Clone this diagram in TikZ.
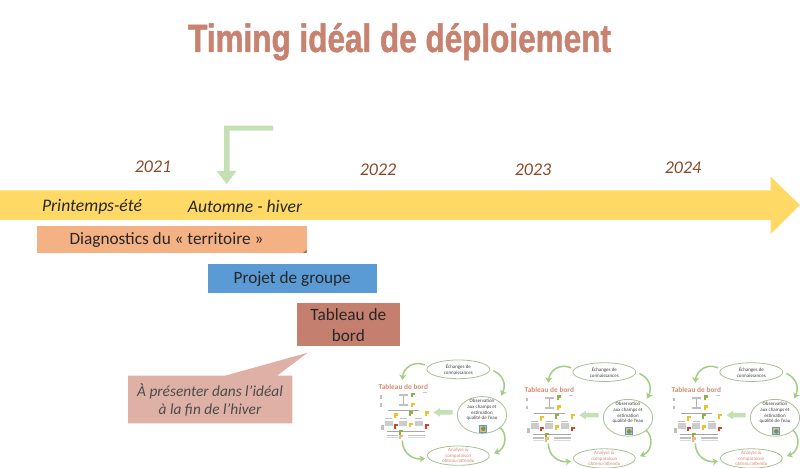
\documentclass[tikz,border=0pt]{standalone}
\usepackage{fontspec}
\setmainfont{Carlito}
\newfontfamily\titlefont[FakeStretch=0.8,FakeBold=1.2]{Liberation Sans}
\usetikzlibrary{arrows.meta,shapes.geometric}
\definecolor{bandyellow}{HTML}{FFD966}
\definecolor{lightgreen}{HTML}{C5E0B4}
\definecolor{arcgreen}{HTML}{A2CD85}
\definecolor{titlecol}{HTML}{C88270}
\definecolor{yearcol}{HTML}{8A4B2A}
\definecolor{orangebox}{HTML}{F4B183}
\definecolor{bluebox}{HTML}{5B9BD5}
\definecolor{brickbox}{HTML}{C47F6E}
\definecolor{pinkbox}{HTML}{DEB0A6}
\definecolor{ellipseedge}{HTML}{A9BF96}
\definecolor{salmontext}{HTML}{D98A72}
\definecolor{flaggreen}{HTML}{8DB04A}
\definecolor{flagyellow}{HTML}{F2C02E}
\definecolor{flagred}{HTML}{D9402A}
\newcommand{\minilabel}{\fontsize{5}{5.7}\selectfont}
\newcommand{\miniflag}[3]{\fill[#3] (#1,#2) rectangle ++(6,14); \fill[#3] (#1,#2) rectangle ++(12,7);}
\newcommand{\miniblock}[2]{\fill[gray!40] (#1,#2) rectangle ++(24,16); \fill[gray!50] (#1+2,#2-8) rectangle ++(20,4);}
\tikzset{
  x=1bp,y=-1bp,
  year/.style={font=\itshape\fontsize{18}{20}\selectfont,text=yearcol,inner sep=0pt},
  season/.style={font=\itshape\fontsize{17.7}{20}\selectfont,text=black!85,inner sep=0pt},
  boxlabel/.style={font=\fontsize{17.3}{21}\selectfont,text=black!85,inner sep=0pt,align=center},
  thumbell/.style={ellipse,draw=ellipseedge,line width=.8pt,fill=white,inner sep=-4pt,align=center},
  thumbtext/.style={font=\minilabel,text=black!75},
  arcarrow/.style={draw=arcgreen,line width=1.5pt,-{Stealth[length=5.5bp,width=7bp]}},
  thumb/.pic={
    \begin{scope}[x=.3333bp,y=-.3333bp]
      \node[thumbell,thumbtext,minimum width=22.2mm,minimum height=6.6mm] (echanges) at (265,58) {Échanges de\\connaissances};
      \node[thumbell,thumbtext,minimum width=17.4mm,minimum height=13mm] (obs) at (336,195) {Observation\\aux champs et\\estimation\\qualité de l'eau\\[5pt]};
      \node[thumbell,thumbtext,text=salmontext,minimum width=21.8mm,minimum height=6.8mm] (analyse) at (265,317) {Analyse \&\\comparaison\\obtenu/attendu};
      \node[font=\bfseries\fontsize{7.4}{8}\selectfont,text=salmontext,inner sep=0pt] (tb) at (100,112) {Tableau de bord};
      \coordinate (a1) at (165,45); \coordinate (a2) at (97,90);
      \coordinate (b1) at (370,62); \coordinate (b2) at (393,137);
      \coordinate (c1) at (390,232); \coordinate (c2) at (372,310);
      \coordinate (d1) at (97,272); \coordinate (d2) at (165,325);
      \path[arcarrow] (a1) .. controls (130,30) and (100,55) .. (a2);
      \path[arcarrow] (b1) .. controls (400,75) and (410,105) .. (b2);
      \path[arcarrow] (c1) .. controls (412,250) and (410,295) .. (c2);
      \path[arcarrow] (d1) .. controls (97,310) and (130,330) .. (d2);
      \fill[lightgreen] (248,180) -- (210,180) -- (210,174) -- (190,187) -- (210,200) -- (210,194) -- (248,194) -- cycle;
      \fill[bluebox] (328,224) rectangle (352,248);
      \fill[orangebox] (331,227) rectangle (349,245);
      \fill[flaggreen!70!teal] (340,236) circle (7);
      % miniature table
      \fill[gray!50] (86,132) rectangle (114,138);
      \fill[gray!50] (86,162) rectangle (114,168);
      \draw[gray!60,line width=.3pt] (100,138) -- (100,162);
      \draw[gray!70,line width=.4pt] (55,180) -- (148,180);
      \draw[gray!70,line width=.4pt] (50,243) -- (165,243);
      \fill[gray!50] (31,135) rectangle (35,146);
      \fill[gray!50] (31,160) rectangle (35,170);
      \fill[gray!50] (32,226) rectangle (43,240);
      \fill[bluebox!50] (158,127) rectangle (170,129);
      \miniflag{122}{128}{flaggreen}
      \miniflag{122}{158}{flagyellow}
      \miniflag{73}{190}{flagyellow}
      \miniflag{118}{184}{flaggreen}
      \miniflag{164}{184}{flagyellow}
      \miniflag{73}{222}{flagred}
      \miniflag{118}{218}{flagyellow}
      \miniflag{164}{222}{flagred}
      \miniflag{88}{240}{flaggreen}
      \miniflag{88}{254}{orangebox}
      \miniblock{44}{212}
      \miniblock{88}{212}
      \miniblock{134}{212}
      \fill[gray!50] (50,254) rectangle (84,259);
      \fill[gray!50] (115,254) rectangle (165,259);
      \fill[gray!30] (50,262) rectangle (84,265);
      \fill[gray!30] (115,262) rectangle (165,265);
    \end{scope}
  }
}
\begin{document}
\begin{tikzpicture}
  \useasboundingbox[fill=white] (0,0) rectangle (800,468);
  % title
  \node[font=\titlefont\bfseries\fontsize{39.5}{44}\selectfont,text=titlecol,inner sep=0pt,anchor=base] (title) at (399.5,52) {Timing idéal de déploiement};
  % timeline
  \fill[bandyellow] (0,190.5) -- (770.7,190.5) -- (770.7,176.7) -- (800,205) -- (770.7,234) -- (770.7,220) -- (0,220) -- cycle;
  \node[year] (y21) at (153,167) {2021};
  \node[year] (y22) at (378,170) {2022};
  \node[year] (y23) at (533,170) {2023};
  \node[year] (y24) at (683,168) {2024};
  \node[season] (spring) at (92,206.5) {Printemps-été};
  \node[season] (autumn) at (245,206.5) {Automne - hiver};
  % bent arrow
  \fill[lightgreen] (273,125.7) -- (224,125.7) -- (224,171) -- (216.7,171) -- (226.7,184) -- (236.3,171) -- (229.7,171) -- (229.7,130.7) -- (273,130.7) -- cycle;
  % bars
  \node[boxlabel,fill=orangebox,minimum width=269.5bp,minimum height=27bp,anchor=north west] (diag) at (37,226) {};
  \fill[orangebox!60!black] (306.5,253) -- (303,253) -- (306.5,250) -- cycle;
  \node[boxlabel] (diagtext) at (166.5,240) {Diagnostics du « territoire »};
  \node[boxlabel,fill=bluebox,minimum width=169.4bp,minimum height=28.7bp,anchor=north west] (projet) at (207.3,264) {Projet de groupe};
  \node[boxlabel,fill=brickbox,minimum width=103.7bp,minimum height=43bp,anchor=north west] (bord) at (296.3,303.3) {Tableau de\\bord};
  % callout
  \fill[pinkbox] (128,375.7) -- (225,375.7) -- (307.7,352.7) -- (277,375.7) -- (292.3,375.7) -- (292.3,423.3) -- (128,423.3) -- cycle;
  \node[font=\itshape\fontsize{15.4}{18.5}\selectfont,text=black!70,inner sep=0pt,align=center] (note) at (210,400) {À présenter dans l’idéal\\à la fin de l’hiver};
  % thumbnails
  \pic (t1) at (370,350) {thumb};
  \pic (t2) at (516,352.8) {thumb};
  \pic (t3) at (663,352.8) {thumb};
\end{tikzpicture}
\end{document}
